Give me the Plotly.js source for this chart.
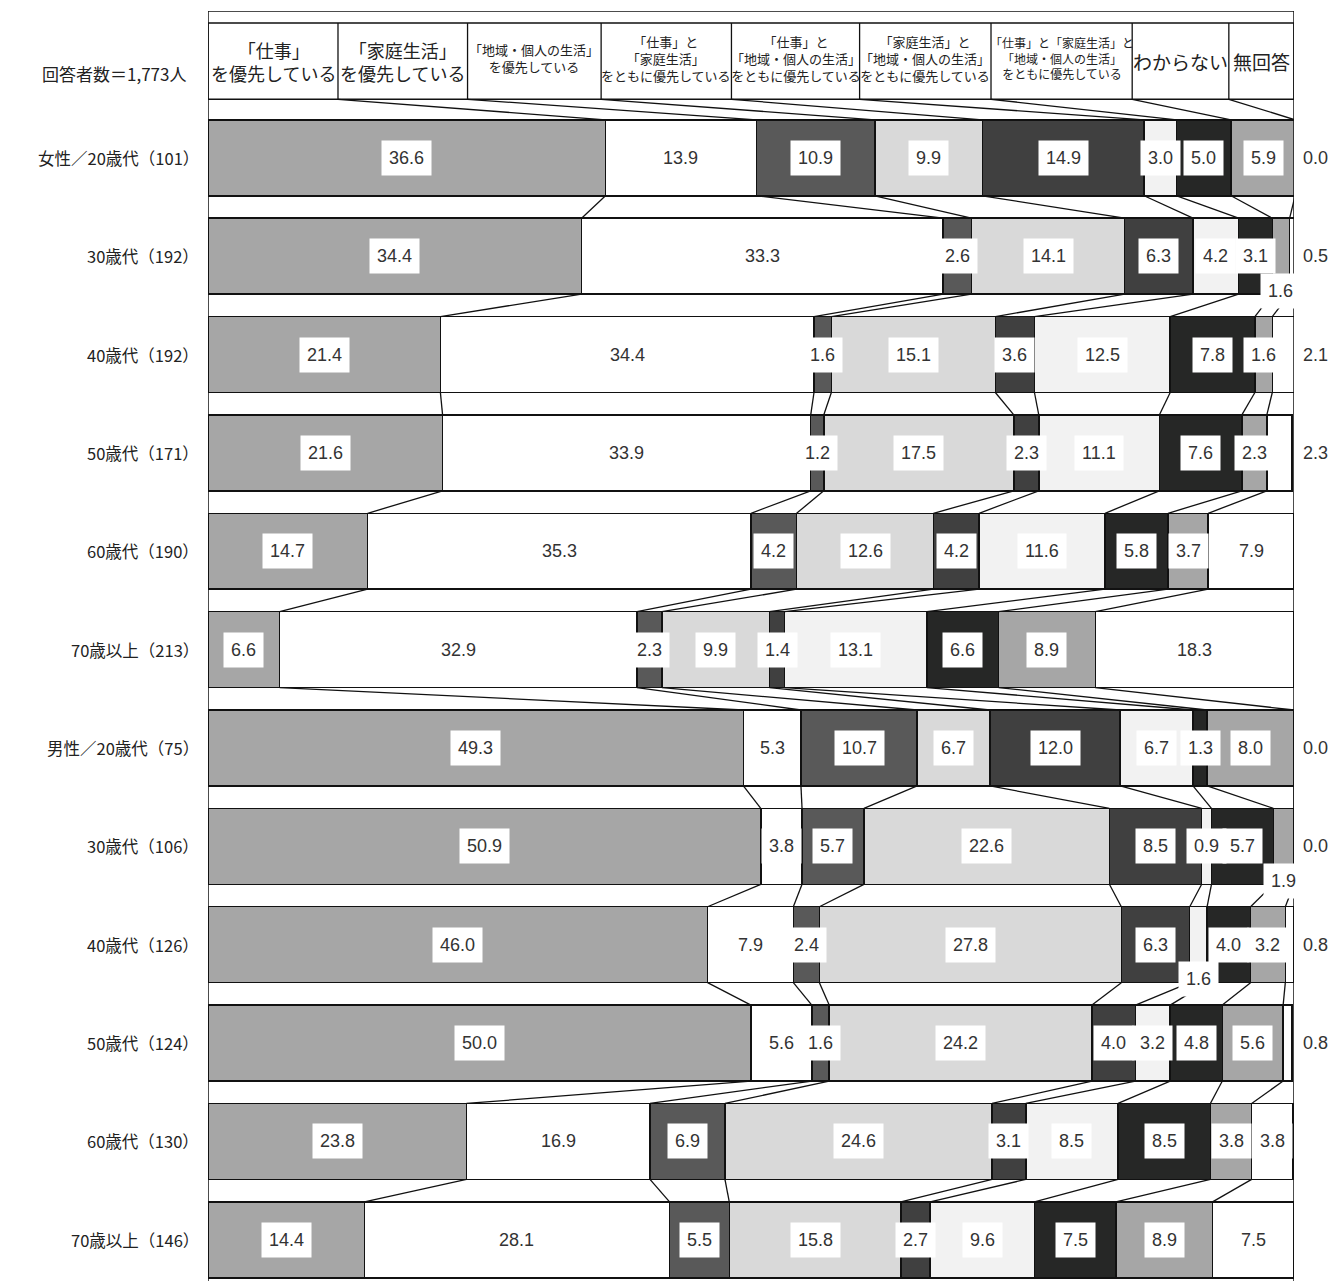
<!DOCTYPE html>
<html>
<head>
<meta charset="utf-8">
<script src="https://cdn.plot.ly/plotly-3.0.1.min.js"></script>
<style>
  body { margin: 0; background: #fff; }
  #chart { width: 1341px; height: 1281px; }
</style>
</head>
<body>
<div id="chart"></div>
<script>
// ==================== data ====================
const rowLabels = [
  '女性／20歳代（101）', '30歳代（192）', '40歳代（192）', '50歳代（171）', '60歳代（190）', '70歳以上（213）',
  '男性／20歳代（75）', '30歳代（106）', '40歳代（126）', '50歳代（124）', '60歳代（130）', '70歳以上（146）'
];
const totalLabel = '回答者数＝1,773人';

const categories = [
  '「仕事」<br>を優先している',
  '「家庭生活」<br>を優先している',
  '「地域・個人の生活」<br>を優先している',
  '「仕事」と<br>「家庭生活」<br>をともに優先している',
  '「仕事」と<br>「地域・個人の生活」<br>をともに優先している',
  '「家庭生活」と<br>「地域・個人の生活」<br>をともに優先している',
  '「仕事」と「家庭生活」と<br>「地域・個人の生活」<br>をともに優先している',
  'わからない',
  '無回答'
];

const shigoto    = [36.6, 34.4, 21.4, 21.6, 14.7, 6.6, 49.3, 50.9, 46.0, 50.0, 23.8, 14.4];
const katei      = [13.9, 33.3, 34.4, 33.9, 35.3, 32.9, 5.3, 3.8, 7.9, 5.6, 16.9, 28.1];
const chiiki     = [10.9, 2.6, 1.6, 1.2, 4.2, 2.3, 10.7, 5.7, 2.4, 1.6, 6.9, 5.5];
const shigotoKatei  = [9.9, 14.1, 15.1, 17.5, 12.6, 9.9, 6.7, 22.6, 27.8, 24.2, 24.6, 15.8];
const shigotoChiiki = [14.9, 6.3, 3.6, 2.3, 4.2, 1.4, 12.0, 8.5, 6.3, 4.0, 3.1, 2.7];
const kateiChiiki   = [3.0, 4.2, 12.5, 11.1, 11.6, 13.1, 6.7, 0.9, 1.6, 3.2, 8.5, 9.6];
const subete     = [5.0, 3.1, 7.8, 7.6, 5.8, 6.6, 1.3, 5.7, 4.0, 4.8, 8.5, 7.5];
const wakaranai  = [5.9, 1.6, 1.6, 2.3, 3.7, 8.9, 8.0, 1.9, 3.2, 5.6, 3.8, 8.9];
const mukaitou   = [0.0, 0.5, 2.1, 2.3, 7.9, 18.3, 0.0, 0.0, 0.8, 0.8, 3.8, 7.5];

const series = [shigoto, katei, chiiki, shigotoKatei, shigotoChiiki, kateiChiiki, subete, wakaranai, mukaitou];

// ==================== style ====================
const colors = ['#a6a6a6', '#ffffff', '#595959', '#d9d9d9', '#404040', '#f2f2f2', '#262726', '#a6a6a6', '#ffffff'];
const headerEdges = [0, 11.97, 23.9, 36.2, 48.2, 60.0, 72.1, 85.1, 94.0, 100];
const headerSizes = [18, 18, 13, 13, 13, 13, 12, 19, 19];
const headerTop = -1.37, headerBottom = -0.595, frameTop = -1.4925, frameBottom = 11.419;
const half = 0.386;
// labels that sit under their bar: [row, category]
const belowBar = [[1, 7], [7, 7], [8, 5]];

const jp = '"Noto Sans CJK JP", "Noto Sans", sans-serif';
const num = '"Liberation Sans", Arial, sans-serif';

const rows = rowLabels.map((_, i) => i);

function cumAt(i, k) {
  let s = 0;
  for (let j = 0; j < k; j++) s += series[j][i];
  return s;
}

// bars
const traces = series.map((vals, j) => ({
  type: 'bar',
  orientation: 'h',
  y: rows,
  x: vals,
  width: half * 2,
  marker: { color: colors[j], line: { color: '#111', width: 1.5 } },
  hoverinfo: 'skip'
}));

// connector lines between bars
const lx = [], ly = [];
for (let k = 1; k < series.length; k++) {
  lx.push(headerEdges[k], cumAt(0, k), null);
  ly.push(headerBottom, -half, null);
}
for (let i = 0; i < rows.length - 1; i++) {
  for (let k = 1; k < series.length; k++) {
    lx.push(cumAt(i, k), cumAt(i + 1, k), null);
    ly.push(i + half, i + 1 - half, null);
  }
}
traces.push({
  type: 'scatter', mode: 'lines', x: lx, y: ly,
  line: { color: '#111', width: 1.3 }, hoverinfo: 'skip', cliponaxis: false
});

// frame and header
const shapes = [
  { type: 'line', xref: 'x', yref: 'y', x0: 0, x1: 100, y0: frameTop, y1: frameTop, line: { color: '#111', width: 1.5 } },
  { type: 'line', xref: 'x', yref: 'y', x0: 0, x1: 0, y0: frameTop, y1: frameBottom, line: { color: '#111', width: 1.5 } },
  { type: 'line', xref: 'x', yref: 'y', x0: 100, x1: 100, y0: frameTop, y1: frameBottom, line: { color: '#111', width: 1.5 } },
  { type: 'rect', xref: 'x', yref: 'y', x0: 0, x1: 100, y0: headerTop, y1: headerBottom, line: { color: '#111', width: 1.5 } }
];
for (let k = 1; k < headerEdges.length - 1; k++) {
  shapes.push({ type: 'line', xref: 'x', yref: 'y', x0: headerEdges[k], x1: headerEdges[k],
    y0: headerTop, y1: headerBottom, line: { color: '#111', width: 1.3 } });
}

const annotations = [];
categories.forEach((c, k) => {
  annotations.push({
    xref: 'x', yref: 'y', x: (headerEdges[k] + headerEdges[k + 1]) / 2,
    y: headerSizes[k] > 15 ? -0.975 : -1.01,
    text: c, showarrow: false, align: 'center',
    font: { family: jp, size: headerSizes[k], color: '#222' }
  });
});
annotations.push({
  xref: 'paper', yref: 'y', x: 0, xanchor: 'right', xshift: -20, y: -0.86,
  text: totalLabel, showarrow: false, font: { family: jp, size: 17, color: '#222' }
});
rowLabels.forEach((lab, i) => {
  annotations.push({
    xref: 'paper', yref: 'y', x: 0, xanchor: 'right', xshift: -7, y: i,
    text: lab, showarrow: false, font: { family: jp, size: 16.5, color: '#222' }
  });
});

// value labels
rows.forEach(i => {
  series.forEach((vals, j) => {
    const v = vals[i];
    const txt = v.toFixed(1);
    if (j === series.length - 1 && v < 3) {
      annotations.push({
        xref: 'paper', yref: 'y', x: 1.02, xanchor: 'center', y: i, text: txt, showarrow: false,
        font: { family: num, size: 18, color: '#333' }
      });
      return;
    }
    const below = belowBar.some(b => b[0] === i && b[1] === j);
    annotations.push({
      xref: 'x', yref: 'y', x: cumAt(i, j) + v / 2, xanchor: 'center', y: below ? i + 0.35 : i,
      text: txt, showarrow: false, bgcolor: '#ffffff', borderpad: 7,
      font: { family: num, size: 18, color: '#333' }
    });
  });
});

Plotly.newPlot('chart', traces, {
  width: 1341,
  height: 1281,
  margin: { l: 208, r: 47, t: 11, b: 0 },
  paper_bgcolor: '#ffffff',
  plot_bgcolor: '#ffffff',
  barmode: 'stack',
  showlegend: false,
  xaxis: { range: [0, 100], visible: false },
  yaxis: { range: [frameBottom, frameTop], visible: false },
  shapes: shapes,
  annotations: annotations
}, { staticPlot: true });
</script>
</body>
</html>
